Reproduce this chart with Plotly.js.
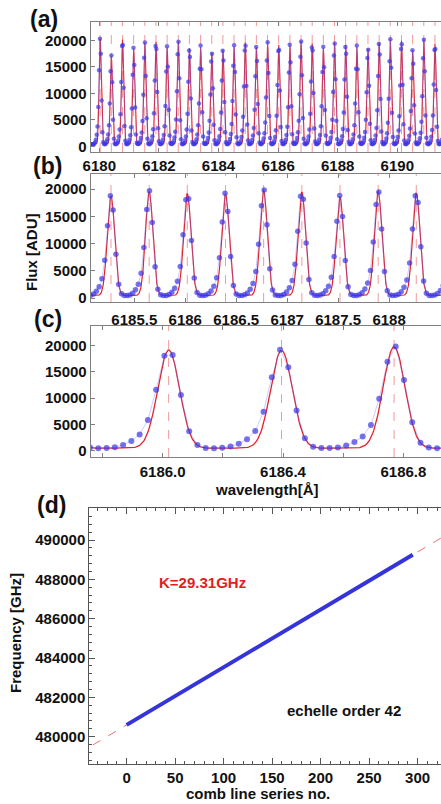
<!DOCTYPE html>
<html>
<head>
<meta charset="utf-8">
<script src="https://cdn.plot.ly/plotly-3.0.1.min.js"></script>
<style>
html,body{margin:0;padding:0;width:441px;height:804px;overflow:hidden;background:#fff}
#chart{width:460px;height:804px}
</style>
</head>
<body>
<div id="chart"></div>
<script>
// ---------- data: echelle order 42 comb spectrum ----------
const pixelStart = 6179.7198;   // wavelength of first pixel (Å)
const pixelStep = 0.02745;      // dispersion (Å per pixel)
const flux = [
440,440,440,440,520,740,1290,2200,3770,7470,14380,20340,
17490,8680,2680,780,470,440,540,830,1380,2250,4020,8120,14180,
17170,12120,5040,1470,570,440,480,640,1080,1880,3200,6080,12180,18960,
19140,11100,3860,1060,500,440,510,750,1260,2110,3620,7170,13520,18610,
15390,7380,2250,720,460,460,580,930,1590,2650,4810,9770,16760,
19630,13300,5310,1470,560,440,480,660,1130,1910,3260,6260,12460,18940,
18390,10260,3460,970,500,440,530,770,1310,2180,3830,7640,14130,18900,
15040,6930,2070,660,460,460,600,970,1680,2780,5110,10410,17420,
19750,12870,4950,1370,540,440,500,680,1120,1890,3220,6200,12200,18100,
16890,9070,3000,860,480,440,530,810,1370,2280,4030,8090,14650,19040,
14560,6470,1890,650,460,480,580,950,1600,2640,4860,9800,16020,
17480,10970,4100,1160,530,440,490,690,1160,1940,3300,6410,12460,18070,
16210,8390,2680,800,480,440,550,830,1430,2370,4240,8560,15230,
19120,14050,6030,1730,610,440,480,620,1050,1790,3000,5630,11340,18110,
19020,11480,4130,1140,520,440,510,720,1220,2060,3510,6910,13270,18760,
16140,8030,2510,760,470,440,560,880,1520,2520,4550,9260,16230,
19660,13850,5730,1620,590,440,480,630,1050,1810,3060,5800,11590,18030,
18210,10570,3690,1030,500,440,520,760,1290,2160,3730,7400,13950,19210,
15880,7600,2310,720,460,460,580,930,1600,2670,4850,9870,16920,
19820,13440,5360,1480,560,440,480,650,1120,1890,3220,6170,12270,18660,
18120,10110,3410,960,500,440,530,770,1310,2170,3810,7600,14060,18800,
14960,6900,2060,660,480,460,600,960,1660,2750,5040,10260,17160,
19450,12680,4880,1350,540,440,500,690,1150,1950,3320,6420,12650,18780,
17520,9400,3100,880,480,440,530,810,1370,2280,4030,8090,14650,19040,
14560,6470,1890,650,460,480,590,970,1650,2740,5060,10230,16720,
18250,11440,4270,1190,530,440,500,710,1220,2050,3510,6840,13320,19340,
17340,8960,2850,830,480,440,560,860,1490,2480,4460,9030,16100,
20220,14850,6360,1810,620,440,480,620,1050,1810,3030,5710,11510,18380,
19310,11650,4180,1150,520,440,510,710,1200,2010,3410,6700,12860,18170,
15630,7780,2440,750,470,440,560,900,1550,2580,4660,9490,16640,
20160,14200,5870,1650,600,440,480,630,1050,1820,3090,5850,11710,18220,
18390,10670,3720,1040,500,440,520,770,1300
];
// Gaussian fit of each comb line
const lineCenters = [6180.028,6180.403,6180.777,6181.152,6181.526,6181.901,6182.275,6182.650,
6183.024,6183.399,6183.773,6184.148,6184.522,6184.897,6185.271,6185.646,6186.020,6186.395,
6186.769,6187.144,6187.518,6187.893,6188.267,6188.642,6189.016,6189.391,6189.765,6190.140,
6190.514,6190.889,6191.263,6191.638];
const fitAmps = [19900,16500,19700,18000,19100,19300,18200,19400,18100,18300,17300,17800,
18400,19200,18300,19000,18700,18600,19300,19000,18100,19100,18800,18300,18100,19100,
19500,19500,17700,19500,18900,18800];
const fitSigma = 0.0362;
const fitBase = 440;
// tick labels
const aTicks = [6180,6182,6184,6186,6188,6190];
const bTicks = [6185.5,6186,6186.5,6187,6187.5,6188];
const cTicks = [6186.0,6186.4,6186.8];
const fluxTicks = [0,5000,10000,15000,20000];
// panel (d): comb line frequencies
const combIndex = [0, 295];
const combFreq = [480600, 489246];
const combFitIndex = [-35, 345];
const combFitFreq = [479574, 490712];
const dXTicks = [0,50,100,150,200,250,300];
const dYTicks = [480000,482000,484000,486000,488000,490000];

// ---------- derived ----------
const wave = flux.map((_, j) => pixelStart + j * pixelStep);
const fitGrid = [];
for (let k = 0; k <= 4010; k++) fitGrid.push(6179.70 + k * 0.003);
const fitCurve = fitGrid.map(w => {
  let s = fitBase;
  for (let i = 0; i < lineCenters.length; i++) {
    const d = (w - lineCenters[i]) / fitSigma;
    if (Math.abs(d) < 9) s += fitAmps[i] * Math.exp(-0.5 * d * d);
  }
  return s;
});

// ---------- layout helpers ----------
const W = 460, H = 804;
const px = x => x / W, py = y => 1 - y / H;
const FONT = 'Liberation Sans, Arial, sans-serif';
const tf = {family: FONT, size: 15, color: '#111', weight: 'bold'};
const frame = {showline: true, linecolor: '#808080', linewidth: 1, mirror: 'ticks',
  ticks: 'inside', ticklen: 4, tickcolor: '#808080', showgrid: false, zeroline: false,
  tickfont: tf, automargin: false, fixedrange: true};

const red = '#e3232b';
const dotColor = 'rgba(60,55,230,0.7)';
const traces = [];
const panels = [
  {xa: 'x', ya: 'y', ms: 4.5, lw: 1.1},
  {xa: 'x2', ya: 'y2', ms: 5.5, lw: 1.2},
  {xa: 'x3', ya: 'y3', ms: 6, lw: 1.3}
];
panels.forEach(p => {
  traces.push({type: 'scatter', mode: 'lines', x: fitGrid, y: fitCurve, xaxis: p.xa, yaxis: p.ya,
    line: {color: red, width: p.lw}, hoverinfo: 'skip'});
  traces.push({type: 'scatter', mode: 'lines+markers', x: wave, y: flux, xaxis: p.xa, yaxis: p.ya,
    line: {color: 'rgba(110,110,255,0.45)', width: 0.8},
    marker: {color: dotColor, size: p.ms}, hoverinfo: 'skip'});
});
traces.push({type: 'scatter', mode: 'lines', x: combFitIndex, y: combFitFreq, xaxis: 'x4', yaxis: 'y4',
  line: {color: 'rgba(230,90,90,0.85)', width: 1, dash: 'dash'}});
traces.push({type: 'scatter', mode: 'lines', x: combIndex, y: combFreq, xaxis: 'x4', yaxis: 'y4',
  line: {color: '#3434d8', width: 4}});

const ranges = {
  x: [6179.711, 6192.104], x2: [6185.072, 6188.696], x3: [6185.761, 6186.988]
};
const shapes = [];
[['x', 'y'], ['x2', 'y2'], ['x3', 'y3']].forEach(([xa, ya]) => {
  lineCenters.forEach(c => {
    if (c > ranges[xa][0] && c < ranges[xa][1]) {
      shapes.push({type: 'line', xref: xa, yref: ya + ' domain', x0: c, x1: c, y0: 0, y1: 1,
        line: {color: 'rgba(238,120,120,0.75)', width: 1, dash: 'dash'}, layer: 'below'});
    }
  });
});

const ann = (x, y, text, opt = {}) => Object.assign({xref: 'paper', yref: 'paper', x: px(x), y: py(y),
  text, showarrow: false, xanchor: 'center', yanchor: 'middle',
  font: {family: FONT, size: 15, color: '#111', weight: 'bold'}}, opt);

const annotations = [
  ann(44, 19, '(a)', {font: {family: FONT, size: 23, color: '#111', weight: 'bold'}}),
  ann(47, 166, '(b)', {font: {family: FONT, size: 23, color: '#111', weight: 'bold'}}),
  ann(47.5, 319, '(c)', {font: {family: FONT, size: 23, color: '#111', weight: 'bold'}}),
  ann(51.5, 505, '(d)', {font: {family: FONT, size: 23, color: '#111', weight: 'bold'}}),
  ann(31, 252, 'Flux [ADU]', {textangle: -90}),
  ann(267, 490, 'wavelength[Å]'),
  ann(15, 633, 'Frequency [GHz]', {textangle: -90}),
  ann(258, 793, 'comb line series no.'),
  ann(202, 582, 'K=29.31GHz', {font: {family: FONT, size: 15, color: '#e32020', weight: 'bold'}}),
  ann(344, 710, 'echelle order 42')
];

const layout = {
  width: W, height: H, margin: {l: 0, r: 0, t: 0, b: 0}, showlegend: false,
  paper_bgcolor: '#fff', plot_bgcolor: '#fff',
  xaxis: Object.assign({}, frame, {domain: [px(90.7), 1], range: ranges.x, anchor: 'y',
    tickmode: 'array', tickvals: aTicks, ticktext: aTicks.map(String), ticklabelstandoff: 0}),
  yaxis: Object.assign({}, frame, {domain: [py(152), py(22)], range: [-1040, 23490], anchor: 'x',
    tickmode: 'array', tickvals: fluxTicks, ticktext: fluxTicks.map(String)}),
  xaxis2: Object.assign({}, frame, {domain: [px(90.7), 1], range: ranges.x2, anchor: 'y2',
    tickmode: 'array', tickvals: bTicks, ticktext: bTicks.map(String), ticklabelstandoff: 4}),
  yaxis2: Object.assign({}, frame, {domain: [py(302), py(174)], range: [-734, 22752], anchor: 'x2',
    tickmode: 'array', tickvals: fluxTicks, ticktext: fluxTicks.map(String)}),
  xaxis3: Object.assign({}, frame, {domain: [px(90.7), 1], range: ranges.x3, anchor: 'y3',
    tickmode: 'array', tickvals: cTicks, ticktext: cTicks.map(v => v.toFixed(1)), ticklabelstandoff: 1,
    minor: {tickmode: 'linear', tick0: 6186.0, dtick: 0.2, ticks: 'inside', ticklen: 4, tickcolor: '#808080'}}),
  yaxis3: Object.assign({}, frame, {domain: [py(457), py(326)], range: [-1238, 23714], anchor: 'x3',
    tickmode: 'array', tickvals: fluxTicks, ticktext: fluxTicks.map(String)}),
  xaxis4: Object.assign({}, frame, {domain: [px(89.3), 1], range: [-38.5, 343.7], anchor: 'y4',
    linecolor: '#555', tickcolor: '#555', ticklen: 6,
    tickmode: 'array', tickvals: dXTicks, ticktext: dXTicks.map(String), ticklabelstandoff: 0,
    minor: {tickmode: 'linear', tick0: 0, dtick: 10, ticks: 'inside', ticklen: 3, tickcolor: '#555'}}),
  yaxis4: Object.assign({}, frame, {domain: [py(764.3), py(508.3)], range: [478597, 491612], anchor: 'x4',
    linecolor: '#555', tickcolor: '#555', ticklen: 6,
    tickmode: 'array', tickvals: dYTicks, ticktext: dYTicks.map(String),
    minor: {tickmode: 'linear', tick0: 480000, dtick: 400, ticks: 'inside', ticklen: 3, tickcolor: '#555'}}),
  shapes, annotations
};

Plotly.newPlot('chart', traces, layout, {staticPlot: true, displayModeBar: false});
</script>
</body>
</html>
